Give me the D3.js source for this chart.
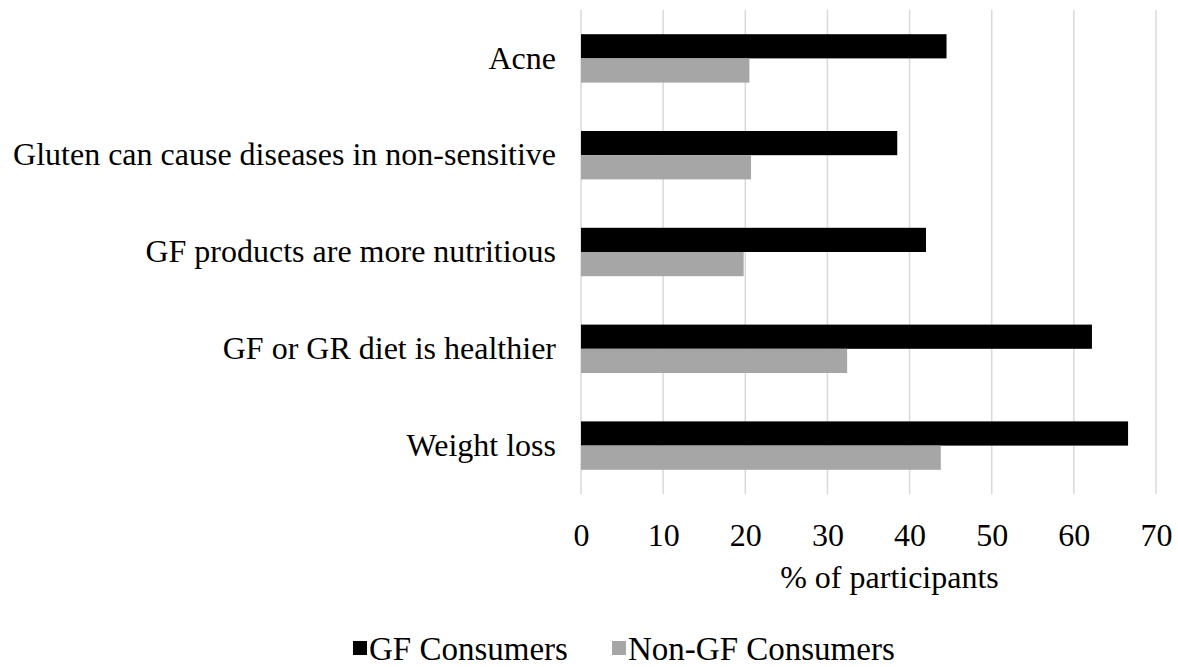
<!DOCTYPE html>
<html>
<head>
<meta charset="utf-8">
<script src="https://cdn.jsdelivr.net/npm/d3@7/dist/d3.min.js"></script>
<style>
  html, body { margin: 0; padding: 0; background: #fff; }
  svg { display: block; }
  text { font-family: "Liberation Serif", "Times New Roman", serif; fill: #000; }
</style>
</head>
<body>
<svg id="chart" width="1178" height="667"></svg>
<script>
// Reasons given for a gluten-free diet, by consumer group
const categories = ["Acne", "Gluten can cause diseases in non-sensitive", "GF products are more nutritious", "GF or GR diet is healthier", "Weight loss"];
const seriesNames = ["GF Consumers", "Non-GF Consumers"];
const gfConsumers = [44.5, 38.5, 42.0, 62.2, 66.6];
const nonGfConsumers = [20.5, 20.7, 19.8, 32.4, 43.8];
const xTicks = [0, 10, 20, 30, 40, 50, 60, 70];
const seriesColors = ["#000000", "#a6a6a6"];

const svg = d3.select("#chart");
const margin = { left: 581, right: 22, top: 10, bottom: 173 };
const W = 1178, H = 667;
const plotW = W - margin.left - margin.right;
const plotH = H - margin.top - margin.bottom;
const serif = "'Liberation Serif', 'Times New Roman', serif";

const g = svg.append("g").attr("transform", `translate(${margin.left},${margin.top})`);

const x = d3.scaleLinear().domain([0, 70]).range([0, plotW]);
const y = d3.scaleBand().domain(categories).range([0, plotH]).paddingInner(0.5).paddingOuter(0.25);
const ySub = d3.scaleBand().domain(seriesNames).range([0, y.bandwidth()]);

// vertical gridlines
g.append("g")
  .selectAll("line")
  .data(xTicks)
  .join("line")
  .attr("x1", d => x(d)).attr("x2", d => x(d))
  .attr("y1", 0).attr("y2", plotH)
  .attr("stroke", "#d9d9d9")
  .attr("stroke-width", 1.5);

// bars
const rows = categories.map((c, i) => ({ cat: c, vals: [gfConsumers[i], nonGfConsumers[i]] }));
const grp = g.selectAll("g.cat").data(rows).join("g")
  .attr("class", "cat")
  .attr("transform", d => `translate(0,${y(d.cat)})`);
grp.selectAll("rect")
  .data(d => d.vals.map((v, j) => ({ name: seriesNames[j], v, j })))
  .join("rect")
  .attr("x", x(0))
  .attr("y", d => ySub(d.name))
  .attr("width", d => x(d.v) - x(0))
  .attr("height", ySub.bandwidth())
  .attr("fill", d => seriesColors[d.j]);

// category labels
const yAxis = d3.axisLeft(y).tickSize(0).tickPadding(25);
const ya = g.append("g").call(yAxis);
ya.select(".domain").remove();
ya.selectAll("text").style("font-size", "32px").style("font-family", serif).attr("fill", "#000");

// x tick labels
const xAxis = d3.axisBottom(x).tickValues(xTicks).tickSize(0).tickPadding(29);
const xa = g.append("g").attr("transform", `translate(0,${plotH})`).call(xAxis);
xa.select(".domain").remove();
xa.selectAll("text").style("font-size", "32px").style("font-family", serif).attr("fill", "#000");

// axis title
g.append("text")
  .attr("x", plotW / 2 + 21)
  .attr("y", plotH + 94)
  .attr("text-anchor", "middle")
  .style("font-size", "32px")
  .text("% of participants");

// legend
const legend = svg.append("g").attr("transform", "translate(353,648)");
const legendX = [0, 259];
seriesNames.forEach((name, i) => {
  const lg = legend.append("g").attr("transform", `translate(${legendX[i]},0)`);
  lg.append("rect").attr("x", 0).attr("y", -7).attr("width", 14).attr("height", 14).attr("fill", seriesColors[i]);
  lg.append("text").attr("x", 16).attr("y", 12).style("font-size", "33px").text(name);
});
</script>
</body>
</html>
